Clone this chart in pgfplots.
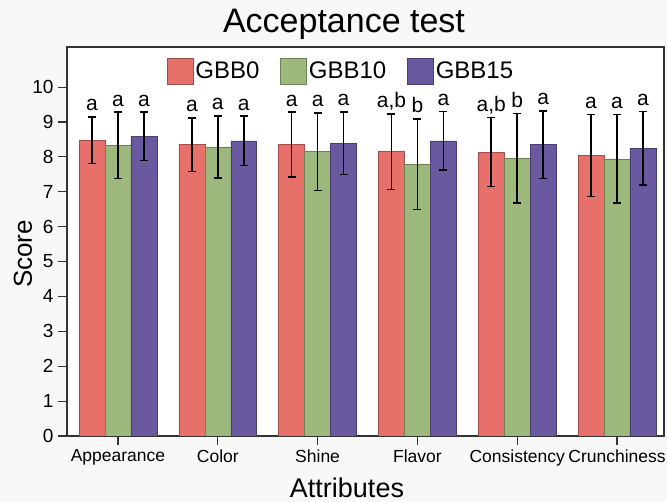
\documentclass[border=0pt]{standalone}
\usepackage{pgfplots}
\pgfplotsset{compat=1.18}
\usepackage{fontspec}
\setmainfont{Liberation Sans}
\definecolor{cR}{HTML}{E8706B}
\definecolor{cG}{HTML}{9CB87C}
\definecolor{cP}{HTML}{6A58A0}
\definecolor{bg}{HTML}{F8F8F8}
\definecolor{ax}{HTML}{333333}
\pgfplotstableread{
x  r   re    g    ge    p    pe
0  8.48 0.67 8.33 0.95 8.59 0.69
1  8.35 0.77 8.29 0.89 8.46 0.71
2  8.35 0.93 8.15 1.11 8.39 0.90
3  8.15 1.08 7.79 1.30 8.46 0.84
4  8.14 0.99 7.96 1.28 8.35 0.97
5  8.04 1.17 7.94 1.27 8.25 1.05
}\data
\begin{document}
\begin{tikzpicture}
\fill[bg] (0,0) rectangle (667pt,502pt);
\useasboundingbox (0,0) rectangle (667pt,502pt);
\begin{axis}[
  at={(67pt,66pt)}, anchor=south west,
  width=597pt, height=389pt, scale only axis,
  ybar=0pt, bar width=0.26,
  xmin=-0.511, xmax=5.471, ymin=0, ymax=11.15,
  axis background/.style={fill=white},
  axis line style={ax, line width=1.3pt},
  xtick=data,
  xticklabels={Appearance,Color,Shine,Flavor,Consistency,Crunchiness},
  ytick={0,1,...,10},
  tick align=outside, tick pos=left,
  major tick length=9pt,
  tick style={ax, line width=1.2pt},
  /pgf/number format/assume math mode=true,
  yticklabel style={font=\fontsize{19}{21}\selectfont, xshift=-1pt},
  xticklabel style={font=\fontsize{17.5}{20}\selectfont, yshift=-1pt},
  title={Acceptance test},
  title style={font=\fontsize{34}{38}\selectfont, at={(axis description cs:0.464,1.023)}, anchor=base},
  xlabel={Attributes},
  xlabel style={font=\fontsize{27}{30}\selectfont, at={(axis description cs:0.469,-0.157)}, anchor=base},
  ylabel={Score},
  ylabel style={font=\fontsize{26}{30}\selectfont, at={(axis description cs:-0.0737,0.468)}, anchor=center, rotate=0},
  legend columns=3,
  legend style={draw=none, fill=none, at={(axis description cs:0.459,0.972)}, anchor=north,
    font=\fontsize{24}{26}\selectfont, nodes={font=\fontsize{24}{26}\selectfont}, inner sep=0pt,
    /tikz/every even column/.append style={column sep=19pt}},
  legend image code/.code={\draw[#1] (0pt,-13pt) rectangle (26pt,13pt);},
  error bars/y dir=both, error bars/y explicit,
]
\addplot[fill=cR, draw=cR!70!black, line width=0.5pt,
  error bars/error bar style={black, line width=1.6pt},
  error bars/error mark options={rotate=90, black, line width=1.6pt, mark size=4pt}]
  table[x=x, y=r, y error=re]{\data};
\addplot[fill=cG, draw=cG!70!black, line width=0.5pt,
  error bars/error bar style={black, line width=1.6pt},
  error bars/error mark options={rotate=90, black, line width=1.6pt, mark size=4pt}]
  table[x=x, y=g, y error=ge]{\data};
\addplot[fill=cP, draw=cP!70!black, line width=0.5pt,
  error bars/error bar style={black, line width=1.6pt},
  error bars/error mark options={rotate=90, black, line width=1.6pt, mark size=4pt}]
  table[x=x, y=p, y error=pe]{\data};
\legend{GBB0,GBB10,GBB15}
\tikzset{lab/.style={anchor=base, yshift=6pt, font=\fontsize{21}{23}\selectfont}}
\node[lab] at (axis cs:-0.26,9.15) {a};
\node[lab] at (axis cs:0,9.28) {a};
\node[lab] at (axis cs:0.26,9.28) {a};
\node[lab] at (axis cs:0.74,9.12) {a};
\node[lab] at (axis cs:1,9.18) {a};
\node[lab] at (axis cs:1.26,9.17) {a};
\node[lab] at (axis cs:1.74,9.28) {a};
\node[lab] at (axis cs:2,9.26) {a};
\node[lab] at (axis cs:2.26,9.29) {a};
\node[lab] at (axis cs:2.74,9.23) {a,b};
\node[lab] at (axis cs:3,9.09) {b};
\node[lab] at (axis cs:3.26,9.30) {a};
\node[lab] at (axis cs:3.74,9.13) {a,b};
\node[lab] at (axis cs:4,9.24) {b};
\node[lab] at (axis cs:4.26,9.32) {a};
\node[lab] at (axis cs:4.74,9.21) {a};
\node[lab] at (axis cs:5,9.21) {a};
\node[lab] at (axis cs:5.26,9.30) {a};
\end{axis}
\end{tikzpicture}
\end{document}
